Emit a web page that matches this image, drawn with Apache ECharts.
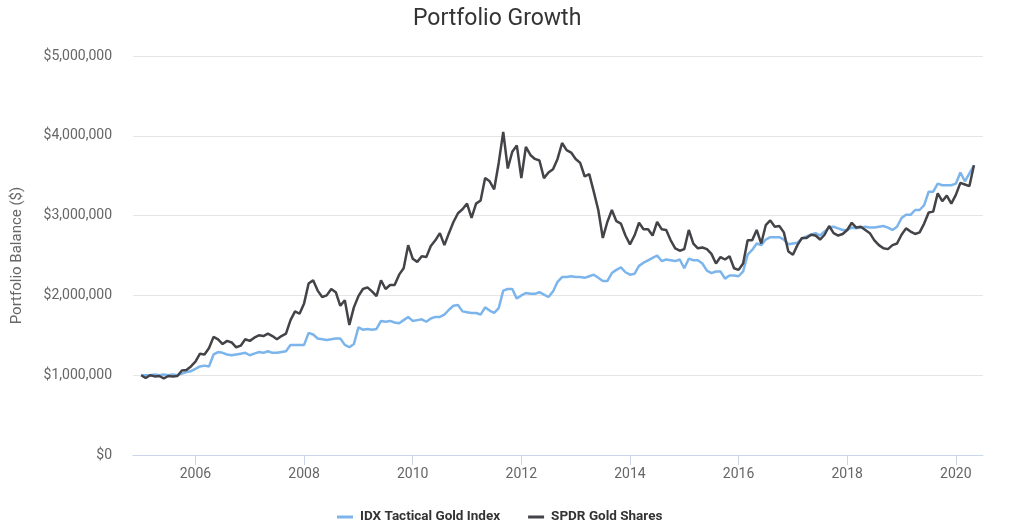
<!DOCTYPE html>
<html>
<head>
<meta charset="utf-8">
<script src="https://cdn.jsdelivr.net/npm/echarts@6/dist/echarts.min.js"></script>
<style>
html,body{margin:0;padding:0;background:#fff;}
#chart{width:1012px;height:531px;}
</style>
</head>
<body>
<div id="chart"></div>
<script>
// Monthly observations, Jan 2005 .. May 2020 (values in $ millions)
const startYear = 2005;
const yearTicks = [2006, 2008, 2010, 2012, 2014, 2016, 2018, 2020];
const seriesNames = ['IDX Tactical Gold Index', 'SPDR Gold Shares'];

const idxTactical = [
1.00,1.00,1.00,1.01,1.00,1.01,1.00,1.01,1.00,1.02,1.04,1.05,
1.08,1.11,1.12,1.11,1.26,1.29,1.28,1.26,1.25,1.26,1.27,1.28,
1.25,1.27,1.29,1.28,1.30,1.28,1.28,1.29,1.30,1.38,1.38,1.38,
1.38,1.53,1.51,1.46,1.45,1.44,1.45,1.46,1.46,1.38,1.35,1.39,
1.60,1.57,1.58,1.57,1.58,1.68,1.67,1.68,1.66,1.65,1.69,1.73,
1.68,1.69,1.70,1.67,1.71,1.73,1.73,1.76,1.82,1.87,1.88,1.80,
1.79,1.78,1.78,1.76,1.85,1.81,1.78,1.84,2.06,2.08,2.08,1.96,
2.00,2.03,2.02,2.02,2.04,2.01,1.98,2.05,2.17,2.23,2.23,2.24,
2.23,2.23,2.22,2.24,2.26,2.22,2.18,2.18,2.28,2.32,2.35,2.29,
2.26,2.27,2.37,2.41,2.44,2.47,2.50,2.43,2.45,2.44,2.43,2.45,
2.34,2.46,2.44,2.44,2.40,2.31,2.28,2.30,2.30,2.21,2.25,2.25,
2.24,2.30,2.51,2.57,2.65,2.63,2.70,2.73,2.73,2.73,2.70,2.64,
2.65,2.66,2.71,2.74,2.76,2.78,2.75,2.80,2.85,2.86,2.84,2.82,
2.82,2.85,2.84,2.85,2.86,2.85,2.85,2.86,2.87,2.85,2.82,2.86,
2.97,3.01,3.01,3.07,3.07,3.13,3.30,3.30,3.40,3.38,3.38,3.38,
3.40,3.54,3.43,3.53,3.63
];

const spdrGold = [
1.00,0.965,1.00,0.985,0.99,0.96,0.99,0.985,0.99,1.06,1.065,1.11,
1.17,1.27,1.26,1.34,1.48,1.45,1.39,1.43,1.41,1.35,1.37,1.45,
1.43,1.47,1.50,1.49,1.52,1.49,1.45,1.49,1.52,1.69,1.80,1.77,
1.90,2.15,2.19,2.06,1.98,2.00,2.08,2.04,1.87,1.94,1.63,1.85,
1.99,2.08,2.10,2.05,1.99,2.19,2.08,2.13,2.13,2.26,2.34,2.63,
2.46,2.42,2.49,2.48,2.62,2.69,2.78,2.63,2.78,2.92,3.03,3.08,
3.15,2.97,3.15,3.19,3.47,3.43,3.33,3.66,4.05,3.59,3.80,3.88,
3.47,3.86,3.76,3.71,3.69,3.47,3.54,3.58,3.71,3.91,3.82,3.79,
3.71,3.66,3.49,3.52,3.30,3.07,2.72,2.92,3.07,2.93,2.90,2.75,
2.64,2.75,2.91,2.83,2.83,2.75,2.92,2.83,2.82,2.69,2.59,2.56,
2.58,2.82,2.65,2.59,2.60,2.58,2.52,2.40,2.48,2.45,2.49,2.34,
2.32,2.40,2.69,2.69,2.82,2.65,2.88,2.94,2.86,2.87,2.79,2.55,
2.51,2.63,2.72,2.72,2.76,2.75,2.70,2.76,2.87,2.78,2.75,2.77,
2.82,2.91,2.85,2.86,2.82,2.78,2.69,2.63,2.59,2.58,2.63,2.65,
2.76,2.84,2.80,2.77,2.79,2.90,3.04,3.05,3.28,3.18,3.25,3.15,
3.26,3.41,3.39,3.37,3.63
];

function toPairs(vals) {
  return vals.map((v, i) => [startYear + i / 12, v * 1e6]);
}

const chart = echarts.init(document.getElementById('chart'), null, {renderer: 'canvas'});
const FONT = 'Roboto, "Noto Sans", sans-serif';

chart.setOption({
  animation: false,
  backgroundColor: '#ffffff',
  title: {
    text: 'Portfolio Growth',
    left: 408,
    top: 3,
    textStyle: {fontFamily: FONT, fontSize: 23, fontWeight: 'normal', color: '#333333'}
  },
  legend: {
    bottom: 2,
    left: 332,
    itemGap: 28,
    icon: 'rect',
    itemWidth: 16,
    itemHeight: 3,
    textStyle: {fontFamily: FONT, fontSize: 13.5, fontWeight: 'bold', color: '#333333', padding: [0, 0, 0, 2]},
    data: seriesNames
  },
  grid: {left: 133, right: 29, top: 56, bottom: 76, containLabel: false},
  xAxis: {
    type: 'value',
    min: 2004.85,
    max: 2020.5,
    axisLine: {show: true, lineStyle: {color: '#ccd6eb', width: 1}},
    axisTick: {show: true, length: 10, lineStyle: {color: '#ccd6eb'}, customValues: yearTicks},
    axisLabel: {
      customValues: yearTicks,
      formatter: v => String(Math.round(v)),
      fontFamily: FONT, fontSize: 14, color: '#666666', margin: 12
    },
    splitLine: {show: false}
  },
  yAxis: {
    type: 'value',
    min: 0,
    max: 5000000,
    interval: 1000000,
    name: 'Portfolio Balance ($)',
    nameLocation: 'middle',
    nameGap: 108,
    nameTextStyle: {fontFamily: FONT, fontSize: 15, color: '#666666'},
    axisLine: {show: false},
    axisTick: {show: false},
    axisLabel: {
      formatter: v => '$' + Math.round(v).toString().replace(/\B(?=(\d{3})+(?!\d))/g, ','),
      fontFamily: FONT, fontSize: 14, color: '#666666', margin: 21
    },
    splitLine: {lineStyle: {color: '#e6e6e6', width: 1}}
  },
  series: [
    {
      name: seriesNames[0],
      type: 'line',
      showSymbol: false,
      symbol: 'none',
      data: toPairs(idxTactical),
      lineStyle: {color: '#7cb5ec', width: 2.5},
      itemStyle: {color: '#7cb5ec'}
    },
    {
      name: seriesNames[1],
      type: 'line',
      showSymbol: false,
      symbol: 'none',
      data: toPairs(spdrGold),
      lineStyle: {color: '#434348', width: 2.5},
      itemStyle: {color: '#434348'}
    }
  ]
});
</script>
</body>
</html>
